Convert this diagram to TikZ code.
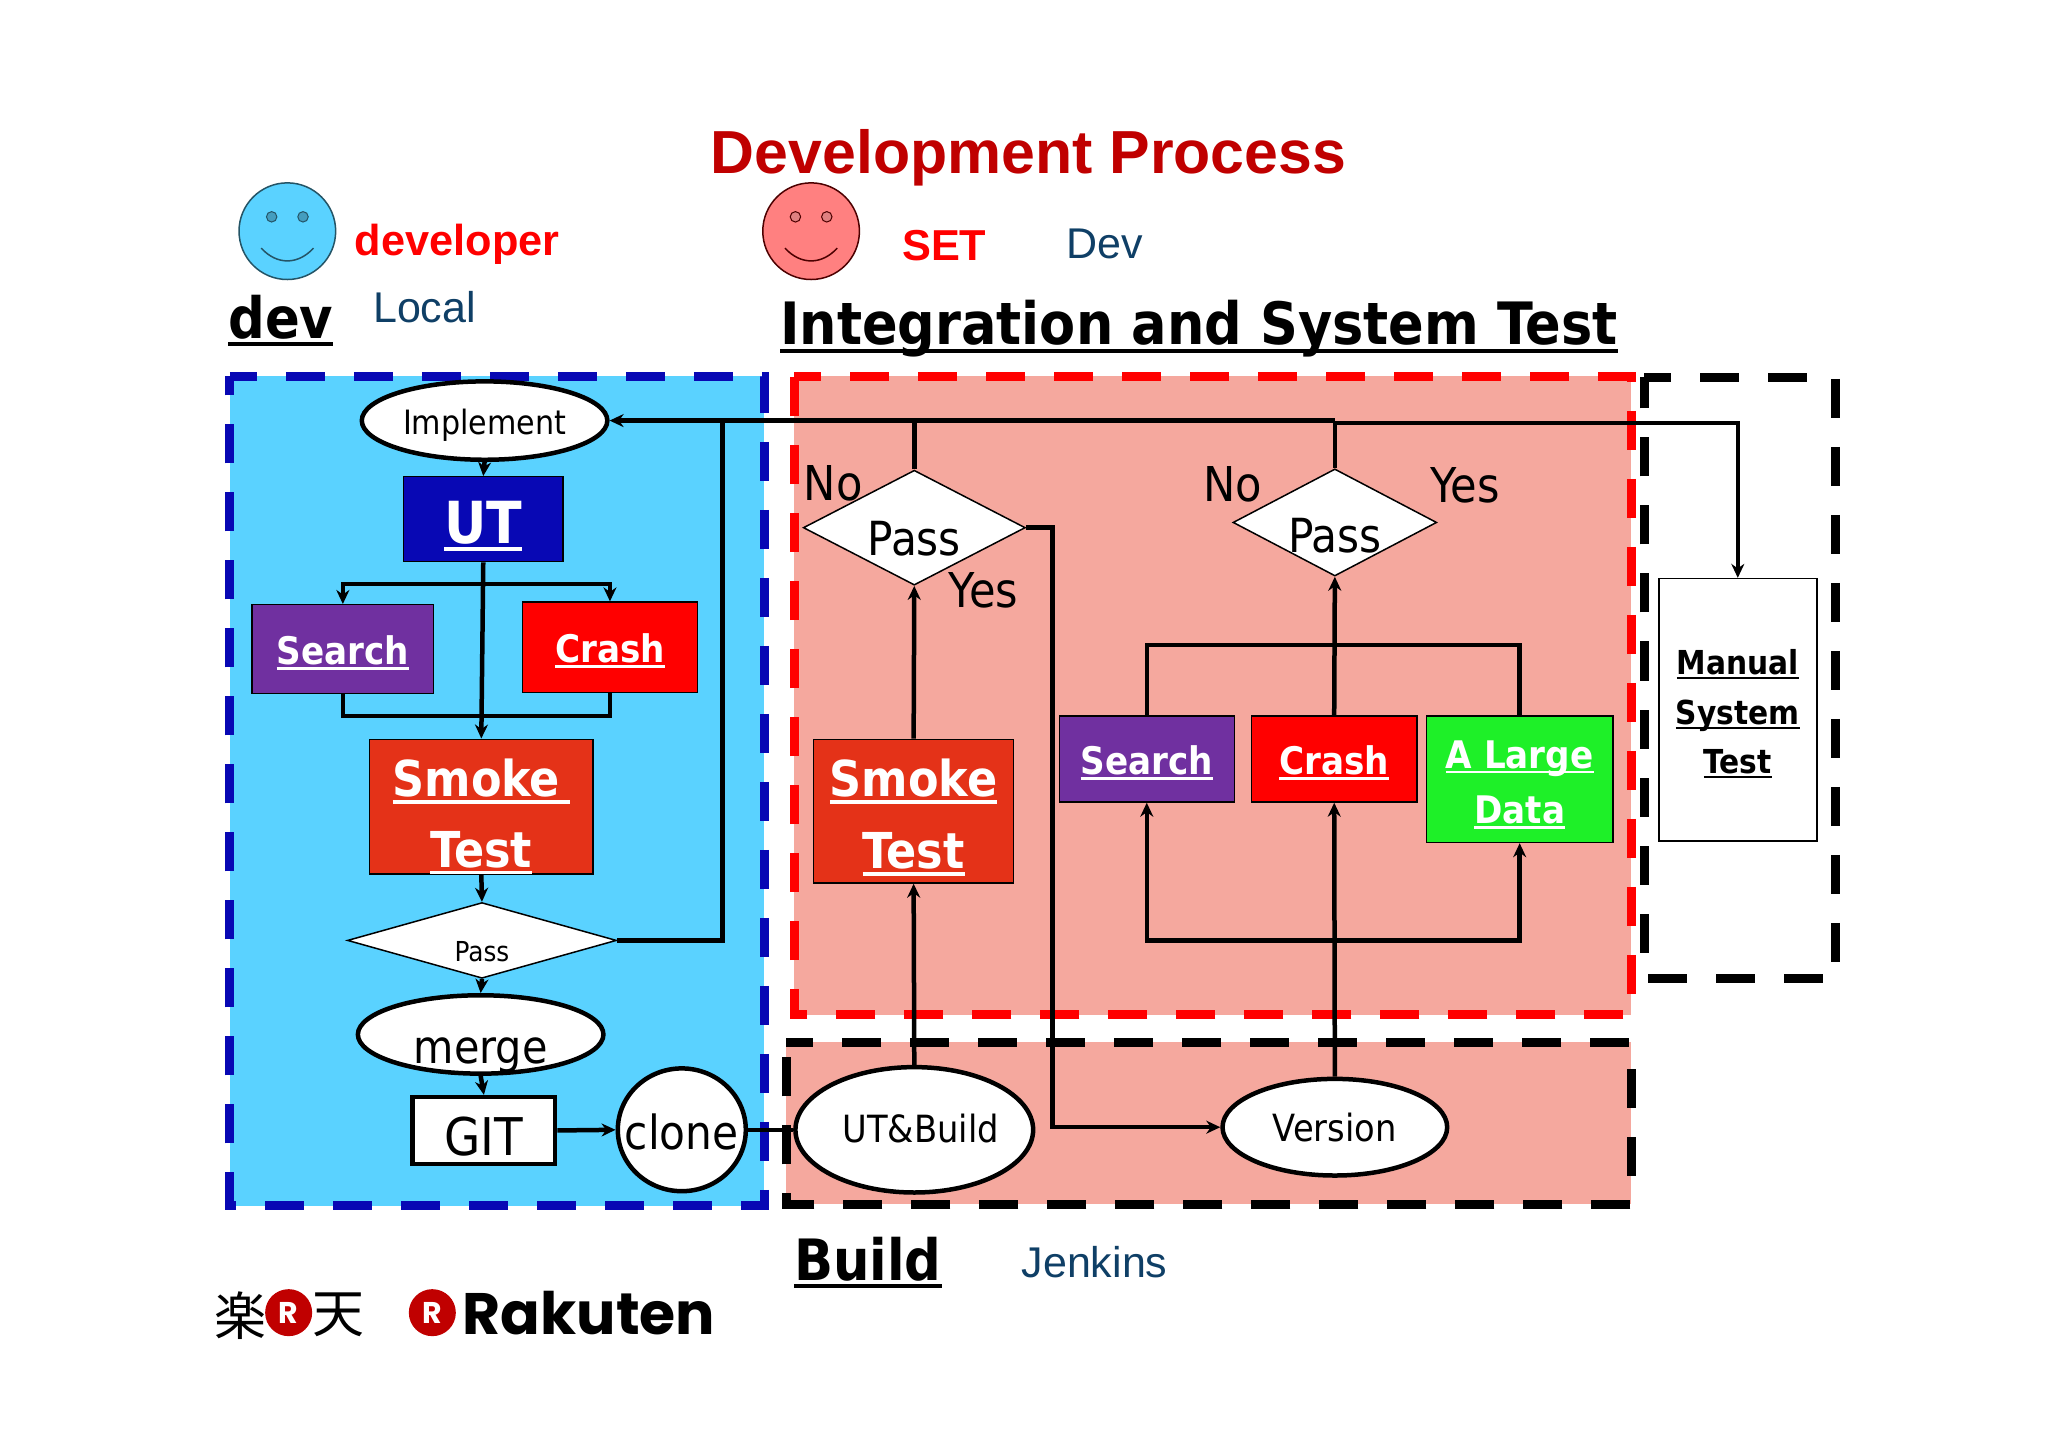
\documentclass[tikz,border=0pt]{standalone}
\usepackage{fontspec}
\setmainfont{Liberation Sans}
\newfontfamily\boxfont{DejaVu Sans Condensed}
\newfontfamily\cjkfont{Noto Sans CJK JP}
\newfontfamily\logofont{Poppins}
\usetikzlibrary{shapes.geometric}
\usetikzlibrary{arrows.meta}
\newlength\pxu
\setlength\pxu{1.30612pt}
\definecolor{devblue}{RGB}{90,210,255}
\definecolor{devnavy}{RGB}{8,8,180}
\definecolor{setpink}{RGB}{245,168,158}
\definecolor{smokered}{RGB}{228,50,24}
\definecolor{searchpurple}{RGB}{112,48,160}
\definecolor{datagreen}{RGB}{30,240,40}
\definecolor{titlered}{RGB}{192,0,0}
\definecolor{notenavy}{RGB}{15,63,102}
\newcommand{\setsize}[1]{\fontsize{#1}{#1}\selectfont}
\newcommand{\ulbox}[1]{\vtop{\hbox{\raisebox{0pt}[\height][0pt]{#1}}\kern0.07em\hrule height 0.07em}}
\newcommand{\lbl}[2]{\raisebox{#1\pxu}[0pt][0pt]{\makebox[0pt]{#2}}}

\begin{document}
\begin{tikzpicture}[x=\pxu, y=-\pxu,
                    >={Stealth[length=14pt,width=13pt]}, % all connectors use the same tip
                    every node/.style = {inner sep=0pt},
                    panel/.style = {line width=9pt, dash pattern=on 39pt off 29pt, dash phase=12pt},
                    conn/.style = {line width=4.5pt},
                    block/.style 2 args = {draw=black, line width=1.5pt, rectangle,
                                           minimum width=#1*\pxu, minimum height=#2*\pxu,
                                           text=white, font=\boxfont\bfseries},
                    oval/.style 2 args = {draw=black, fill=white, line width=4.5pt, ellipse,
                                          minimum width=#1*\pxu, minimum height=#2*\pxu,
                                          font=\boxfont},
                    choice/.style 2 args = {draw=black, fill=white, line width=1.5pt, diamond,
                                            minimum width=#1*\pxu, minimum height=#2*\pxu,
                                            font=\boxfont},
                    word/.style = {anchor=base, font=\boxfont\setsize{48}},
                    head/.style = {anchor=base, font=\boxfont\bfseries\setsize{58.4}},
                    note/.style = {anchor=base, text=notenavy, font=\setsize{43}},
                    face/.style = {circle, minimum size=74*\pxu, line width=1.5pt},
                    eye/.style = {circle, minimum size=8*\pxu, line width=1pt},
                    badge/.style = {circle, fill=titlered, text=white, minimum size=36*\pxu,
                                    font=\logofont\bfseries\setsize{30}}
                   ]
  \useasboundingbox (0,0) rectangle (1568,1108.6);

  % panels
  \draw[panel, draw=devnavy, fill=devblue] (176,288) -- (585,288) -- (585,923) -- (176,923) -- cycle;
  \draw[panel, draw=red, fill=setpink] (608,288) -- (1249,288) -- (1249,777) -- (608,777) -- cycle;
  \draw[panel, draw=black, fill=setpink] (602,798) -- (1249,798) -- (1249,922) -- (602,922) -- cycle;
  \draw[panel, draw=black] (1259,289) -- (1405,289) -- (1405,749) -- (1259,749) -- cycle;

  % headings
  \node[anchor=base, text=titlered, font=\bfseries\setsize{60.8}] (title) at (787.5,133) {Development Process};
  \node[face, draw=black!60!devblue, fill=devblue] (devface) at (220,177) {};
  \node[eye, draw=black!60!devblue, fill=black!25!devblue] (devleye) at (208,166) {};
  \node[eye, draw=black!60!devblue, fill=black!25!devblue] (devreye) at (232,166) {};
  \draw[line width=1.5pt, black!60!devblue] (200,190) .. controls (212,203) and (228,203) .. (240,190);
  \node[face, draw=black!70!red, fill=red!50!white] (setface) at (621,177) {};
  \node[eye, draw=black!70!red, fill=black!25!red!50!white] (setleye) at (609,166) {};
  \node[eye, draw=black!70!red, fill=black!25!red!50!white] (setreye) at (633,166) {};
  \draw[line width=1.5pt, black!70!red] (601,190) .. controls (613,203) and (629,203) .. (641,190);
  \node[anchor=base, text=red, font=\bfseries\setsize{43.3}] (devrole) at (350,195.5) {developer};
  \node[anchor=base, text=red, font=\bfseries\setsize{43.3}] (setrole) at (723,199.5) {SET};
  \node[note] (devnote) at (846,198) {Dev};
  \node[note] (localnote) at (325,247) {Local};
  \node[note] (jenkinsnote) at (838,978) {Jenkins};
  \node[head, font=\boxfont\bfseries\setsize{57}] (devhead) at (215,259) {\ulbox{dev}};
  \node[head] (ithead) at (918,264) {\ulbox{Integration and System Test}};
  \node[head, font=\boxfont\bfseries\setsize{57}] (buildhead) at (664.5,980) {\ulbox{Build}};

  % local flow
  \node[oval={188}{60}] (impl) at (371,322) {\setsize{33.5}\lbl{-10.5}{Implement}};
  \node[block={122}{65}, fill=devnavy] (ut) at (370,397.5) {\setsize{58}\lbl{-18.5}{\ulbox{UT}}};
  \node[block={139}{68}, fill=searchpurple] (searchL) at (262.5,497) {\setsize{38}\lbl{-12}{\ulbox{Search}}};
  \node[block={134}{69}, fill=red] (crashL) at (467,495.5) {\setsize{38}\lbl{-11.5}{\ulbox{Crash}}};
  \node[block={171}{103}, fill=smokered] (smokeL) at (368.5,617.5) {\setsize{49.5}\lbl{7.5}{\ulbox{Smoke\hspace{0.2em}}}\lbl{-46.5}{\ulbox{Test}}};
  \node[choice={206}{58}] (passL) at (369,720) {\setsize{27.5}\lbl{-16}{Pass}};
  \node[oval={188}{60}] (merge) at (368,792) {\setsize{46}\lbl{-22}{merge}};
  \node[block={109}{51}, fill=white, text=black, line width=4.5pt, font=\boxfont] (git) at (370.5,865.5) {\setsize{52}\lbl{-19}{GIT}};
  \node[oval={98}{94}] (clone) at (522,865) {\setsize{47}\lbl{-15}{clone}};

  % build
  \node[oval={182}{96}] (utbuild) at (700,865) {\setsize{37.5}\lbl{-10}{\hspace{10\pxu}UT\&Build}};
  \node[oval={172}{74}] (version) at (1022,863) {\setsize{37.5}\lbl{-11}{Version}};

  % integration
  \node[choice={170}{88}] (passA) at (700,404) {\setsize{47}\lbl{-21}{Pass}};
  \node[choice={156}{82}] (passB) at (1022,400) {\setsize{47}\lbl{-23}{Pass}};
  \node[block={153}{110}, fill=smokered] (smokeR) at (699.5,621) {\setsize{49.5}\lbl{11}{\ulbox{Smoke}}\lbl{-44}{\ulbox{Test}}};
  \node[block={134}{66}, fill=searchpurple] (searchR) at (878,581) {\setsize{38}\lbl{-12}{\ulbox{Search}}};
  \node[block={127}{66}, fill=red] (crashR) at (1021.5,581) {\setsize{38}\lbl{-12}{\ulbox{Crash}}};
  \node[block={143}{97}, fill=datagreen] (data) at (1163.5,596.5) {\setsize{38}\lbl{8.5}{\ulbox{A Large}}\lbl{-34}{\ulbox{Data}}};
  \node[block={121}{201}, fill=white, text=black] (manual) at (1330.5,543.5) {\setsize{33}\lbl{27}{\ulbox{Manual}}\lbl{-11}{\ulbox{System}}\lbl{-48.5}{\ulbox{Test}}};
  \node[word] (noA) at (638,383) {No};
  \node[word] (yesA) at (753,465) {Yes};
  \node[word] (noB) at (944,384) {No};
  \node[word] (yesB) at (1122,385) {Yes};

  % logo
  \node[font=\cjkfont\setsize{52}] (rakuA) at (184,1007) {楽};
  \node[badge] (rakuB) at (221,1005) {R};
  \node[font=\cjkfont\setsize{52}] (rakuC) at (259,1007) {天};
  \node[badge] (rakuD) at (331,1005) {R};
  \node[anchor=base, font=\logofont\bfseries\setsize{58.5}] (rakuE) at (451,1022) {Rakuten};

  % junctions
  \coordinate (busA) at (1022,322);
  \coordinate (busM) at (1022,324);
  \coordinate (busL) at (553,322);
  \coordinate (splitU) at (370,447);
  \coordinate (joinU) at (370,548);
  \coordinate (turnB) at (806,863);
  \coordinate (splitV) at (1022,720);
  \coordinate (joinT) at (1022,494);

  % connectors
  \draw[conn, ->] (busA) -- (impl.east);
  \draw[conn, ->] (busM) -| (manual.north);
  \draw[conn] (passA.north) -- (passA.north |- busA);
  \draw[conn] (passB.north) -- (busA);
  \draw[conn] (passL.east) -| (busL);
  \draw[conn, ->] (impl.south) -- (ut.north);
  \draw[conn, ->] (ut.south) -- (smokeL.north);
  \draw[conn, ->] (splitU) -| (searchL.north);
  \draw[conn, ->] (splitU) -| (crashL.north);
  \draw[conn] (searchL.south) |- (joinU) -| (crashL.south);
  \draw[conn, ->] (smokeL.south) -- (passL.north);
  \draw[conn, ->] (passL.south) -- (merge.north);
  \draw[conn, ->] (merge.south) -- (git.north);
  \draw[conn, ->] (git.east) -- (clone.west);
  \draw[conn] (clone.east) -- (utbuild.west);
  \draw[conn, ->] (utbuild.north) -- (smokeR.south);
  \draw[conn, ->] (smokeR.north) -- (passA.south);
  \draw[conn, ->] (passA.east) -| (turnB) -- (version.west);
  \draw[conn, ->] (version.north) -- (crashR.south);
  \draw[conn, ->] (splitV) -| (searchR.south);
  \draw[conn, ->] (splitV) -| (data.south);
  \draw[conn] (searchR.north) |- (joinT) -| (data.north);
  \draw[conn, ->] (crashR.north) -- (passB.south);
\end{tikzpicture}
\end{document}
